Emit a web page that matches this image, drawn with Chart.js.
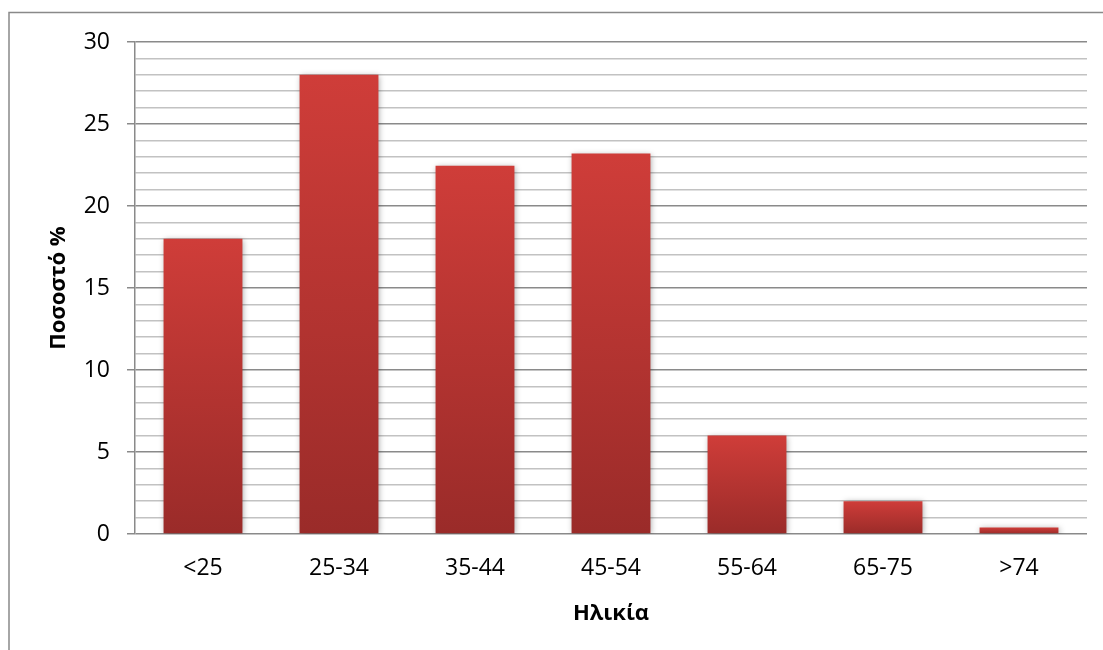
<!DOCTYPE html>
<html>
<head>
<meta charset="utf-8">
<script src="https://cdn.jsdelivr.net/npm/chart.js@4/dist/chart.umd.min.js"></script>
<style>
html,body{margin:0;padding:0;background:#fff;}
#wrap{position:absolute;left:0;top:0;width:1103px;height:650px;}
</style>
</head>
<body>
<div id="wrap"><canvas id="c" width="1103" height="650"></canvas></div>
<script>
const categories = ['<25', '25-34', '35-44', '45-54', '55-64', '65-75', '>74'];
const percentages = [18, 28, 22.45, 23.2, 6, 2, 0.4];
const yTickLabels = [0, 5, 10, 15, 20, 25, 30];
const xTitle = 'Ηλικία';
const yTitle = 'Ποσοστό %';

const FONT = "'Open Sans', 'Noto Sans', sans-serif";

const frame = {
  id: 'frame',
  afterDraw(chart) {
    const ctx = chart.ctx;
    ctx.save();
    ctx.strokeStyle = '#898989';
    ctx.lineWidth = 1.5;
    ctx.beginPath();
    ctx.moveTo(9, 650);
    ctx.lineTo(9, 12.5);
    ctx.lineTo(1103, 12.5);
    ctx.stroke();
    ctx.restore();
  }
};

const shadow = {
  id: 'shadow',
  beforeDatasetsDraw(chart) {
    const ctx = chart.ctx;
    ctx.save();
    ctx.shadowColor = 'rgba(0,0,0,0.35)';
    ctx.shadowBlur = 6;
    ctx.shadowOffsetX = 1;
    ctx.shadowOffsetY = 1;
  },
  afterDatasetsDraw(chart) {
    chart.ctx.restore();
  }
};

new Chart(document.getElementById('c'), {
  type: 'bar',
  data: {
    labels: categories,
    datasets: [{
      data: percentages,
      barPercentage: 0.58,
      categoryPercentage: 1,
      borderWidth: 0,
      backgroundColor: (c) => {
        const chart = c.chart;
        const area = chart.chartArea;
        if (!area || c.type !== 'data') return '#B83432';
        const y = chart.scales.y;
        const top = y.getPixelForValue(c.parsed.y);
        const bot = y.getPixelForValue(0);
        if (!isFinite(top) || !isFinite(bot) || top === bot) return '#B83432';
        const g = chart.ctx.createLinearGradient(0, top, 0, bot);
        g.addColorStop(0, '#CF3D39');
        g.addColorStop(1, '#9A2B29');
        return g;
      }
    }]
  },
  options: {
    responsive: false,
    animation: false,
    devicePixelRatio: 1,
    layout: { padding: { top: 42, right: 16, bottom: 0, left: 0 } },
    plugins: {
      legend: { display: false },
      tooltip: { enabled: false }
    },
    scales: {
      x: {
        grid: { display: false, drawTicks: false },
        border: { display: false },
        ticks: {
          padding: 21,
          color: '#000',
          font: { family: FONT, size: 23 },
          maxRotation: 0
        },
        title: {
          display: true,
          text: xTitle,
          color: '#000',
          font: { family: FONT, size: 22, weight: 'bold' },
          padding: { top: 0, bottom: 23 }
        },
        afterFit(s) { s.height = 116; }
      },
      y: {
        min: 0,
        max: 30,
        border: { display: true, color: '#8A8A8A', width: 1.5 },
        grid: {
          drawTicks: true,
          tickLength: 8,
          lineWidth: 1.5,
          color: (c) => (c.tick && c.tick.value % 5 === 0) ? '#8A8A8A' : '#C2C2C2',
          tickColor: (c) => (c.tick && c.tick.value % 5 === 0) ? '#8A8A8A' : 'rgba(0,0,0,0)'
        },
        ticks: {
          stepSize: 1,
          autoSkip: false,
          padding: 17,
          color: '#000',
          font: { family: FONT, size: 23 },
          callback: (v) => yTickLabels.includes(v) ? String(v) : ''
        },
        title: {
          display: true,
          text: yTitle,
          color: '#000',
          font: { family: FONT, size: 22, weight: 'bold' },
          padding: { top: 46, bottom: 0 }
        },
        afterFit(s) { s.width = 135; }
      }
    }
  },
  plugins: [frame, shadow]
});
</script>
</body>
</html>
